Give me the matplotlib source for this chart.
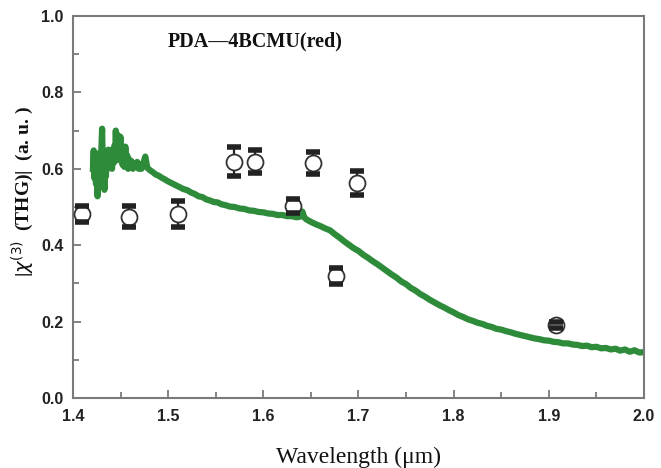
import matplotlib
matplotlib.use("Agg")
import matplotlib.pyplot as plt
from matplotlib.ticker import MultipleLocator

# THG measurement points
pts_x = [1.409, 1.4588, 1.510, 1.5695, 1.591, 1.6315, 1.6525, 1.676, 1.698, 1.908]
pts_y = [0.481, 0.475, 0.481, 0.619, 0.619, 0.503, 0.615, 0.319, 0.562, 0.191]
pts_err = [0.021, 0.027, 0.034, 0.039, 0.030, 0.018, 0.029, 0.021, 0.031, 0.008]

# absorption-derived curve
curve_x = [1.4210, 1.4218, 1.4226, 1.4234, 1.4242, 1.4250, 1.4258, 1.4266, 1.4274, 1.4282,
           1.4290, 1.4298, 1.4306, 1.4314, 1.4322, 1.4330, 1.4338, 1.4346, 1.4354, 1.4362,
           1.4370, 1.4378, 1.4386, 1.4394, 1.4402, 1.4410, 1.4418, 1.4426, 1.4434, 1.4442,
           1.4450, 1.4458, 1.4466, 1.4474, 1.4482, 1.4490, 1.4498, 1.4506, 1.4514, 1.4522,
           1.4530, 1.4540, 1.4550, 1.4560, 1.4570, 1.4580, 1.4590, 1.4600, 1.4615, 1.4630,
           1.4645, 1.4660, 1.4675, 1.4690, 1.4705, 1.4720, 1.4740, 1.4760, 1.4780, 1.4800,
           1.4840, 1.4870, 1.4900, 1.4930, 1.4960, 1.5000, 1.5040, 1.5080, 1.5120, 1.5160,
           1.5200, 1.5240, 1.5280, 1.5320, 1.5360, 1.5400, 1.5440, 1.5480, 1.5520, 1.5560,
           1.5600, 1.5650, 1.5700, 1.5750, 1.5800, 1.5850, 1.5900, 1.5950, 1.6000, 1.6050,
           1.6100, 1.6150, 1.6200, 1.6250, 1.6300, 1.6350, 1.6390, 1.6410, 1.6430, 1.6450,
           1.6500, 1.6550, 1.6600, 1.6650, 1.6700, 1.6750, 1.6800, 1.6850, 1.6900, 1.6950,
           1.7000, 1.7050, 1.7100, 1.7150, 1.7200, 1.7250, 1.7300, 1.7350, 1.7400, 1.7450,
           1.7500, 1.7550, 1.7600, 1.7650, 1.7700, 1.7750, 1.7800, 1.7850, 1.7900, 1.7950,
           1.8000, 1.8050, 1.8100, 1.8150, 1.8200, 1.8250, 1.8300, 1.8350, 1.8400, 1.8450,
           1.8500, 1.8550, 1.8600, 1.8650, 1.8700, 1.8750, 1.8800, 1.8850, 1.8900, 1.8950,
           1.9000, 1.9050, 1.9100, 1.9150, 1.9200, 1.9250, 1.9300, 1.9350, 1.9400, 1.9450,
           1.9500, 1.9550, 1.9600, 1.9650, 1.9700, 1.9750, 1.9800, 1.9850, 1.9900, 1.9950,
           2.0000]
curve_y = [0.600, 0.648, 0.575, 0.630, 0.560, 0.640, 0.528, 0.615, 0.580, 0.640,
           0.590, 0.650, 0.705, 0.600, 0.640, 0.545, 0.625, 0.580, 0.640, 0.600,
           0.650, 0.605, 0.649, 0.610, 0.640, 0.600, 0.650, 0.615, 0.660, 0.620,
           0.700, 0.640, 0.690, 0.625, 0.670, 0.630, 0.684, 0.620, 0.660, 0.610,
           0.640, 0.605, 0.658, 0.610, 0.635, 0.600, 0.625, 0.605, 0.620, 0.600,
           0.615, 0.605, 0.618, 0.600, 0.612, 0.600, 0.615, 0.632, 0.603, 0.598,
           0.591, 0.585, 0.582, 0.577, 0.573, 0.567, 0.562, 0.557, 0.552, 0.547,
           0.544, 0.538, 0.534, 0.528, 0.526, 0.520, 0.517, 0.513, 0.512, 0.507,
           0.505, 0.501, 0.500, 0.496, 0.495, 0.491, 0.490, 0.487, 0.486, 0.483,
           0.482, 0.479, 0.479, 0.476, 0.476, 0.473, 0.475, 0.488, 0.473, 0.468,
           0.461, 0.455, 0.450, 0.444, 0.439, 0.429, 0.420, 0.410, 0.401, 0.392,
           0.385, 0.375, 0.367, 0.358, 0.350, 0.341, 0.332, 0.323, 0.315, 0.305,
           0.298, 0.288, 0.281, 0.272, 0.265, 0.257, 0.250, 0.243, 0.237, 0.230,
           0.224, 0.217, 0.212, 0.206, 0.202, 0.197, 0.194, 0.189, 0.186, 0.181,
           0.179, 0.175, 0.172, 0.168, 0.165, 0.162, 0.159, 0.156, 0.154, 0.151,
           0.150, 0.147, 0.146, 0.143, 0.143, 0.140, 0.139, 0.136, 0.137, 0.133,
           0.134, 0.130, 0.131, 0.127, 0.129, 0.124, 0.127, 0.121, 0.125, 0.119,
           0.120]

xticks = [1.4, 1.5, 1.6, 1.7, 1.8, 1.9, 2.0]
yticks = [0.0, 0.2, 0.4, 0.6, 0.8, 1.0]
title_text = "PDA\u20144BCMU(red)"

fig = plt.figure(figsize=(6.61, 4.68), dpi=100)
ax = fig.add_axes([0.1104, 0.1496, 0.8639, 0.8162])

ax.plot(curve_x, curve_y, color="#2e8b3a", lw=4.5, solid_joinstyle="round", zorder=2)

# error bar lines (behind markers)
ax.errorbar(pts_x, pts_y, yerr=pts_err, fmt="none", ecolor="#222222", elinewidth=1.6,
            capsize=0, zorder=3)
# markers
ax.plot(pts_x, pts_y, "o", ms=11.5, mfc="white", mec="#333333", mew=1.3, zorder=4,
        linestyle="none")
# thick caps on top
cap_top = [y + e for y, e in zip(pts_y, pts_err)]
cap_bot = [y - e for y, e in zip(pts_y, pts_err)]
ax.plot(pts_x, cap_top, "_", ms=10, mew=4, color="#222222", zorder=5, linestyle="none")
ax.plot(pts_x, cap_bot, "_", ms=10, mew=4, color="#222222", zorder=5, linestyle="none")

ax.set_xlim(1.4, 2.0)
ax.set_ylim(0.0, 1.0)
ax.set_xticks(xticks)
ax.set_yticks(yticks)
ax.set_xticklabels([f"{v:.1f}" for v in xticks])
ax.set_yticklabels([f"{v:.1f}" for v in yticks])
ax.xaxis.set_minor_locator(MultipleLocator(0.05))
ax.yaxis.set_minor_locator(MultipleLocator(0.1))

for s in ax.spines.values():
    s.set_color("#7a7a7a")
    s.set_linewidth(1.5)

ax.tick_params(which="both", direction="in", color="#7a7a7a", width=1.3,
               top=False, right=False)
ax.tick_params(which="major", length=6)
ax.tick_params(which="minor", length=4)
ax.tick_params(axis="x", which="major", pad=8)
ax.tick_params(axis="y", which="major", pad=7)
for lab in ax.get_xticklabels() + ax.get_yticklabels():
    lab.set_fontfamily("Liberation Sans")
    lab.set_fontweight("bold")
    lab.set_fontsize(11.5)
    lab.set_color("#222222")

ax.text(0.166, 0.932, title_text, transform=ax.transAxes, ha="left", va="center",
        fontsize=14.5, fontweight="bold", family="Liberation Serif", color="#111111")

ax.set_xlabel("Wavelength (\u03bcm)", fontsize=17, family="Liberation Serif",
              color="#111111", labelpad=16)
ax.set_ylabel(r"|$\chi^{(3)}$  (THG)|  (a. u. )", fontsize=14, family="Liberation Serif",
              fontweight="bold", color="#111111")
ax.yaxis.set_label_coords(-0.064, 0.54)

fig.savefig("out.png", dpi=100)
